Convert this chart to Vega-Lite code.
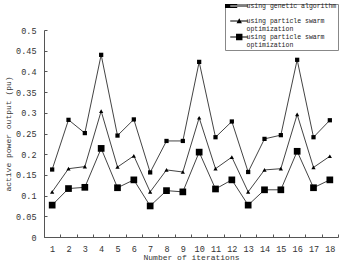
{
 "$schema": "https://vega.github.io/schema/vega-lite/v6.json",
 "width": 294,
 "height": 207,
 "autosize": {"type": "none"},
 "padding": {"left": 44, "top": 30, "right": 4, "bottom": 31},
 "background": "white",
 "config": {
  "view": {"stroke": null},
  "font": "Liberation Mono",
  "style": {"guide-label": {"lineHeight": 7.6}},
  "axis": {"domainColor": "#555", "tickColor": "#555", "labelColor": "#333", "titleColor": "#333", "labelFont": "Liberation Mono", "titleFont": "Liberation Mono", "titleFontWeight": "normal", "labelFontSize": 8.5, "titleFontSize": 8, "grid": false}
 },
 "data": {"values": [
  {"iter": 1, "s": "GA", "v": 0.163}, {"iter": 2, "s": "GA", "v": 0.283}, {"iter": 3, "s": "GA", "v": 0.251}, {"iter": 4, "s": "GA", "v": 0.44}, {"iter": 5, "s": "GA", "v": 0.245}, {"iter": 6, "s": "GA", "v": 0.284}, {"iter": 7, "s": "GA", "v": 0.156}, {"iter": 8, "s": "GA", "v": 0.232}, {"iter": 9, "s": "GA", "v": 0.232}, {"iter": 10, "s": "GA", "v": 0.423}, {"iter": 11, "s": "GA", "v": 0.241}, {"iter": 12, "s": "GA", "v": 0.279}, {"iter": 13, "s": "GA", "v": 0.157}, {"iter": 14, "s": "GA", "v": 0.237}, {"iter": 15, "s": "GA", "v": 0.246}, {"iter": 16, "s": "GA", "v": 0.428}, {"iter": 17, "s": "GA", "v": 0.241}, {"iter": 18, "s": "GA", "v": 0.282},
  {"iter": 1, "s": "PSO1", "v": 0.109}, {"iter": 2, "s": "PSO1", "v": 0.165}, {"iter": 3, "s": "PSO1", "v": 0.17}, {"iter": 4, "s": "PSO1", "v": 0.304}, {"iter": 5, "s": "PSO1", "v": 0.169}, {"iter": 6, "s": "PSO1", "v": 0.196}, {"iter": 7, "s": "PSO1", "v": 0.109}, {"iter": 8, "s": "PSO1", "v": 0.162}, {"iter": 9, "s": "PSO1", "v": 0.157}, {"iter": 10, "s": "PSO1", "v": 0.288}, {"iter": 11, "s": "PSO1", "v": 0.165}, {"iter": 12, "s": "PSO1", "v": 0.193}, {"iter": 13, "s": "PSO1", "v": 0.109}, {"iter": 14, "s": "PSO1", "v": 0.162}, {"iter": 15, "s": "PSO1", "v": 0.165}, {"iter": 16, "s": "PSO1", "v": 0.296}, {"iter": 17, "s": "PSO1", "v": 0.168}, {"iter": 18, "s": "PSO1", "v": 0.195},
  {"iter": 1, "s": "PSO2", "v": 0.077}, {"iter": 2, "s": "PSO2", "v": 0.117}, {"iter": 3, "s": "PSO2", "v": 0.12}, {"iter": 4, "s": "PSO2", "v": 0.214}, {"iter": 5, "s": "PSO2", "v": 0.119}, {"iter": 6, "s": "PSO2", "v": 0.138}, {"iter": 7, "s": "PSO2", "v": 0.075}, {"iter": 8, "s": "PSO2", "v": 0.112}, {"iter": 9, "s": "PSO2", "v": 0.109}, {"iter": 10, "s": "PSO2", "v": 0.205}, {"iter": 11, "s": "PSO2", "v": 0.116}, {"iter": 12, "s": "PSO2", "v": 0.138}, {"iter": 13, "s": "PSO2", "v": 0.077}, {"iter": 14, "s": "PSO2", "v": 0.114}, {"iter": 15, "s": "PSO2", "v": 0.114}, {"iter": 16, "s": "PSO2", "v": 0.207}, {"iter": 17, "s": "PSO2", "v": 0.119}, {"iter": 18, "s": "PSO2", "v": 0.138}
 ]},
 "encoding": {
  "x": {"field": "iter", "type": "ordinal", "scale": {"type": "band", "paddingInner": 0, "paddingOuter": 0},
        "axis": {"title": "Number of iterations", "labelAngle": 0, "tickBand": "extent", "tickSize": -3, "labelPadding": 10, "titlePadding": 1}},
  "y": {"field": "v", "type": "quantitative", "scale": {"domain": [0, 0.5], "nice": false},
        "axis": {"title": "active power output (pu)", "values": [0, 0.05, 0.1, 0.15, 0.2, 0.25, 0.3, 0.35, 0.4, 0.45, 0.5], "format": ".2~f", "tickSize": -3, "labelPadding": 11, "titlePadding": 3}}
 },
 "layer": [
  {"mark": {"type": "line", "color": "#444", "strokeWidth": 1}, "encoding": {"detail": {"field": "s"}}},
  {"mark": {"type": "point", "filled": true, "color": "black", "opacity": 1},
   "encoding": {
    "shape": {"condition": {"test": "datum.s == 'PSO1'", "value": "triangle-up"}, "value": "square"},
    "size": {"condition": {"test": "datum.s == 'PSO2'", "value": 45}, "value": 18}
   }},
  {"mark": {"type": "point", "fill": "black", "stroke": "black", "strokeWidth": 1, "opacity": 0},
   "encoding": {
    "shape": {"field": "s", "type": "nominal", "scale": {"domain": ["GA", "PSO1", "PSO2"], "range": ["M0.33,-0.92H6.33V-0.58H0.33ZM2.66,-1.42H4,-1.42V-0.08H2.66Z", "M0.33,-0.92H6.33V-0.58H0.33ZM3.33,-1.65L4.23,0H2.43Z", "M0.33,-0.92H6.33V-0.58H0.33ZM2.26,-1.82H4.4V0.32H2.26Z"]},
      "legend": {"orient": "none", "legendX": 181, "legendY": -26, "title": null, "strokeColor": "#888", "fillColor": "white", "padding": 1,
        "labelFont": "Liberation Mono", "labelFontSize": 6.5, "labelColor": "#222", "labelLimit": 0, "labelOffset": 14, "symbolOffset": 0, "rowPadding": 0, "symbolSize": 36,
        "symbolOpacity": 1, "symbolStrokeWidth": 0, "symbolStrokeColor": "black", "symbolFillColor": "black", "labelBaseline": "alphabetic",
        "labelExpr": "datum.value == 'GA' ? ['using genetic algorithm', ''] : ['using particle swarm', 'optimization']"}}
   }}
 ]
}
